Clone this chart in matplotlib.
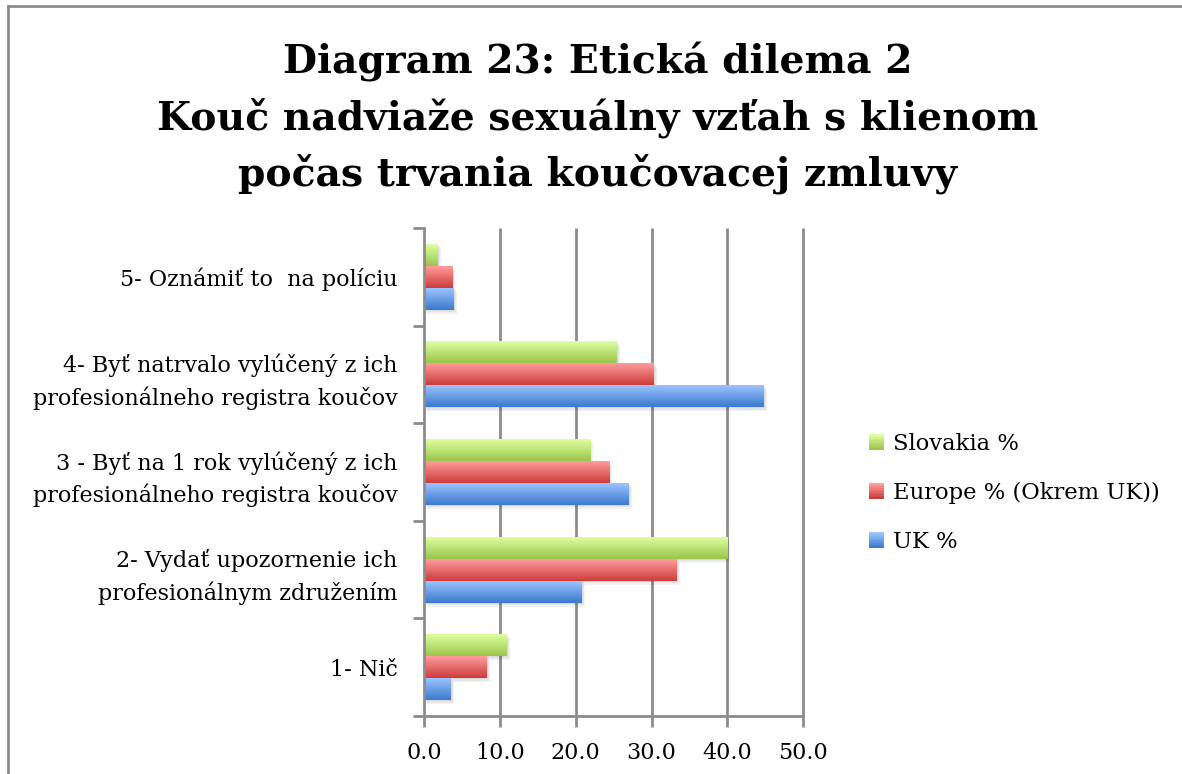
import matplotlib
matplotlib.use("Agg")
from matplotlib import pyplot as plt
from matplotlib.patches import Rectangle
from matplotlib.legend_handler import HandlerBase
import matplotlib.transforms as mtransforms
import numpy as np

categories = [
    "1- Nič",
    "2- Vydať upozornenie ich\nprofesionálnym združením",
    "3 - Byť na 1 rok vylúčený z ich\nprofesionálneho registra koučov",
    "4- Byť natrvalo vylúčený z ich\nprofesionálneho registra koučov",
    "5- Oznámiť to  na políciu",
]
uk = [3.5, 20.8, 27.0, 44.8, 3.9]
europe = [8.3, 33.3, 24.4, 30.3, 3.7]
slovakia = [10.9, 40.0, 21.9, 25.4, 1.8]
series_names = ["Slovakia %", "Europe % (Okrem UK))", "UK %"]
x_ticks = [0, 10, 20, 30, 40, 50]

title_lines = [
    "Diagram 23: Etická dilema 2",
    "Kouč nadviaže sexuálny vzťah s klienom",
    "počas trvania koučovacej zmluvy",
]

# (top colour, bottom colour) for each series
grad = {
    "UK %": ("#9cc3ff", "#3b7acd"),
    "Europe % (Okrem UK))": ("#ff9c9c", "#cd3c3c"),
    "Slovakia %": ("#deffa0", "#9bc54c"),
}

plt.rcParams['font.family'] = ['DejaVu Serif']
gray = "#8c8c8c"

fig = plt.figure(figsize=(11.82, 7.74), dpi=100)
ax = fig.add_axes([424 / 1182, 1 - 716 / 774, 379.3 / 1182, 488 / 774])

bar_h = 0.225
data = [("UK %", uk, -bar_h), ("Europe % (Okrem UK))", europe, 0.0), ("Slovakia %", slovakia, bar_h)]

for name, vals, off in data:
    top, bot = grad[name]
    c_top = np.array(matplotlib.colors.to_rgb(top))
    c_bot = np.array(matplotlib.colors.to_rgb(bot))
    t = np.linspace(0, 1, 64)[:, None]
    img = (c_bot * (1 - t) + c_top * t)[:, None, :]
    for i, v in enumerate(vals):
        y0 = i + off - bar_h / 2
        # soft drop shadow
        for k in range(3):
            sh = Rectangle((0, y0), v, bar_h, facecolor="black", alpha=0.05, lw=0,
                           transform=ax.transData + mtransforms.ScaledTranslation(
                               (1 + k) / 100, -(1 + 1.5 * k) / 100, fig.dpi_scale_trans),
                           zorder=1.5)
            ax.add_patch(sh)
        ax.imshow(img, extent=[0, v, y0, y0 + bar_h], origin="lower", aspect="auto",
                  interpolation="bilinear", zorder=2)

ax.set_xlim(0, 50)
ax.set_ylim(-0.5, 4.5)
ax.set_aspect("auto")

ax.set_xticks(x_ticks)
ax.set_xticklabels([f"{v:.1f}" for v in x_ticks], fontsize=16)
ax.set_yticks(np.arange(-0.5, 5, 1))
ax.set_yticklabels([])
ax.set_yticks(range(5), minor=True)
ax.set_yticklabels(categories, minor=True, fontsize=16, ha="right", multialignment="right")
for lab in ax.get_yticklabels(minor=True):
    lab.set_linespacing(1.5)
ax.tick_params(axis="y", which="minor", length=0, pad=19)
ax.tick_params(axis="y", which="major", length=8, width=2, color=gray, direction="out")
ax.tick_params(axis="x", length=8, width=2, color=gray, direction="out", pad=11)

# vertical gridlines (not clipped so the 50 line is full width)
ax.vlines(x_ticks[1:], -0.5, 4.5, color=gray, lw=2, clip_on=False, zorder=1)
for s in ["top", "right"]:
    ax.spines[s].set_visible(False)
for s in ["left", "bottom"]:
    ax.spines[s].set_color(gray)
    ax.spines[s].set_linewidth(2)
    ax.spines[s].set_zorder(3)


class GradHandler(HandlerBase):
    def create_artists(self, legend, orig_handle, xdescent, ydescent, width, height, fontsize, trans):
        top, bot = grad[orig_handle.get_label()]
        c_top = np.array(matplotlib.colors.to_rgb(top))
        c_bot = np.array(matplotlib.colors.to_rgb(bot))
        arts = []
        n = 10
        for k in range(n):
            f = k / (n - 1)
            col = c_bot * (1 - f) + c_top * f
            r = Rectangle((-xdescent, -ydescent + height * k / n), width, height / n + 0.3,
                          facecolor=col, lw=0, transform=trans)
            arts.append(r)
        return arts


handles = [Rectangle((0, 0), 1, 1, label=n) for n in series_names]
fig.legend(handles=handles, labels=series_names, handler_map={Rectangle: GradHandler()},
           loc="center left", bbox_to_anchor=(869 / 1182, 1 - 493 / 774), frameon=False,
           fontsize=16.3, handlelength=0.68, handleheight=0.68, handletextpad=0.38,
           labelspacing=1.2, borderpad=0, borderaxespad=0)

baselines = [74, 130, 185]
for line, yb in zip(title_lines, baselines):
    fig.text(598 / 1182, 1 - yb / 774, line, ha="center", va="baseline",
             fontsize=28.3, fontweight="bold")

# chart frame (only left and top edges visible in the crop)
fig.add_artist(plt.Line2D([8 / 1182, 8 / 1182], [0, 1 - 6 / 774], color=gray, lw=2,
                          transform=fig.transFigure))
fig.add_artist(plt.Line2D([8 / 1182, 1], [1 - 6 / 774, 1 - 6 / 774], color=gray, lw=2,
                          transform=fig.transFigure))

fig.savefig("out.png", dpi=100)
